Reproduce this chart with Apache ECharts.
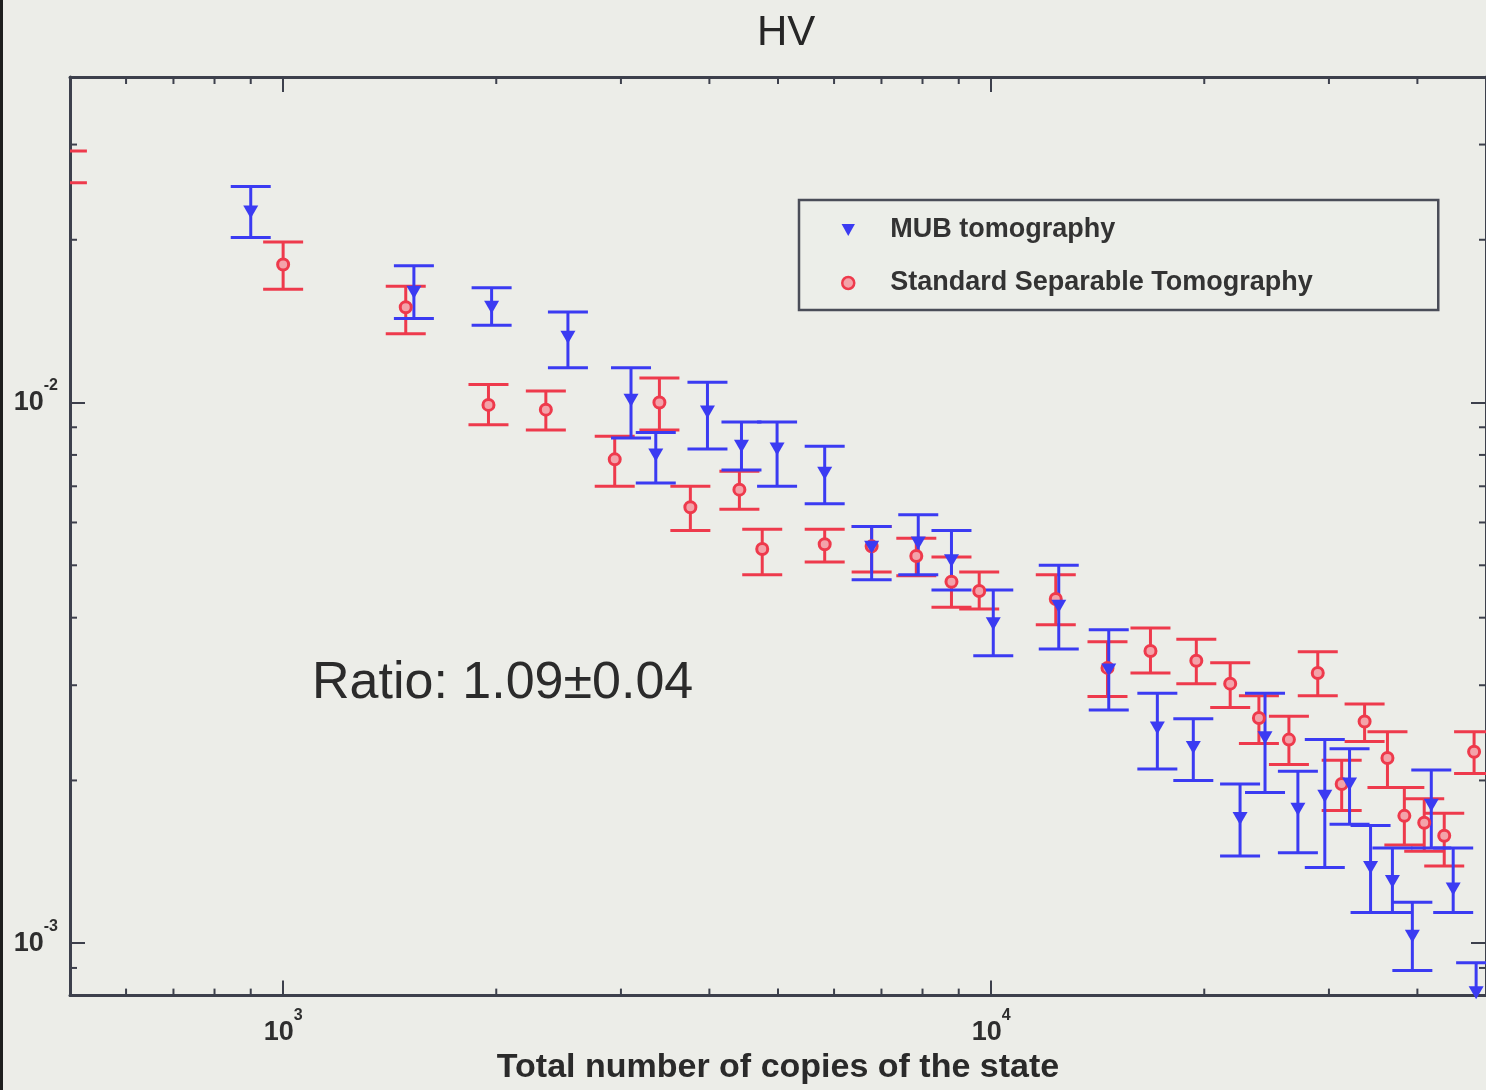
<!DOCTYPE html>
<html>
<head>
<meta charset="utf-8">
<title>HV</title>
<script src="https://cdn.jsdelivr.net/npm/echarts@6/dist/echarts.min.js"></script>
<style>
  html, body { margin: 0; padding: 0; background: #ecede8; }
  #chart { width: 1486px; height: 1090px; }
</style>
</head>
<body>
<div id="chart"></div>
<script>
// MUB tomography: number of copies, estimate, lower and upper error bounds
const mubCopies = [900, 1530, 1970, 2525, 3100, 3360, 3975, 4440, 4985, 5820,
  6780, 7890, 8790, 10070, 12460, 14660, 17170, 19300, 22470, 24370,
  27120, 29600, 32080, 34350, 36880, 39350, 41850, 44940, 48420];
const mubValue = [0.0225, 0.0160, 0.0150, 0.0132, 0.0101, 0.0080, 0.0096, 0.0083, 0.0082, 0.0074,
  0.0054, 0.0055, 0.0051, 0.0039, 0.0042, 0.0032, 0.0025, 0.0023, 0.0017, 0.0024,
  0.00177, 0.00187, 0.00197, 0.00138, 0.00130, 0.00103, 0.00180, 0.00126, 0.00081];
const mubLower = [0.0202, 0.0143, 0.0139, 0.0116, 0.0086, 0.0071, 0.0082, 0.0075, 0.0070, 0.0065,
  0.0047, 0.0048, 0.0045, 0.0034, 0.0035, 0.0027, 0.0021, 0.0020, 0.00145, 0.0019,
  0.00147, 0.00138, 0.00166, 0.00114, 0.00114, 0.00089, 0.00150, 0.00114, 0.00072];
const mubUpper = [0.0251, 0.0179, 0.0163, 0.0147, 0.0116, 0.0088, 0.0109, 0.0092, 0.0092, 0.0083,
  0.0059, 0.0062, 0.0058, 0.0045, 0.0050, 0.0038, 0.0029, 0.0026, 0.00197, 0.0029,
  0.00208, 0.00238, 0.00229, 0.00165, 0.00150, 0.00119, 0.00209, 0.00150, 0.00092];

// Standard separable tomography
const sstCopies = [495, 1000, 1490, 1950, 2350, 2940, 3400, 3760, 4410, 4750,
  5820, 6780, 7840, 8790, 9620, 12340, 14600, 16790, 19490, 21760,
  23890, 26340, 28930, 31270, 33690, 36290, 38340, 40900, 43650, 48100];
const sstValue = [0.0272, 0.0180, 0.0150, 0.0099, 0.0097, 0.00785, 0.0100, 0.0064, 0.0069, 0.00536,
  0.00547, 0.00542, 0.0052, 0.00466, 0.00448, 0.00433, 0.00323, 0.00347, 0.00333, 0.00302,
  0.00261, 0.00238, 0.00316, 0.00197, 0.00257, 0.00220, 0.00172, 0.00167, 0.00158, 0.00226];
const sstLower = [0.0255, 0.0162, 0.0134, 0.0091, 0.0089, 0.0070, 0.0089, 0.0058, 0.00635, 0.0048,
  0.00507, 0.00486, 0.00478, 0.00418, 0.00415, 0.00388, 0.00286, 0.00316, 0.00302, 0.00273,
  0.00234, 0.00214, 0.00287, 0.00176, 0.00236, 0.00194, 0.00152, 0.00148, 0.00139, 0.00206];
const sstUpper = [0.0292, 0.0198, 0.0164, 0.0108, 0.0105, 0.00866, 0.0111, 0.0070, 0.00746, 0.00583,
  0.00583, 0.0059, 0.00561, 0.00518, 0.00486, 0.0048, 0.00361, 0.00383, 0.00365, 0.0033,
  0.00287, 0.00263, 0.00346, 0.00218, 0.00277, 0.00246, 0.00194, 0.00185, 0.00174, 0.00246];

// Axis ranges and minor tick positions (log axes)
const xRange = [500, 50000];
const yRange = [0.0008, 0.04];
const xMinorTicks = [600, 700, 800, 900, 2000, 3000, 4000, 5000, 6000, 7000, 8000, 9000, 20000, 30000, 40000];
const yMinorTicks = [0.0009, 0.002, 0.003, 0.004, 0.005, 0.006, 0.007, 0.008, 0.009, 0.02, 0.03];

const seriesNames = ['MUB tomography', 'Standard Separable Tomography'];
const ratioText = 'Ratio: 1.09\u00b10.04';

const FONT = '"Liberation Sans", Arial, Helvetica, sans-serif';
const AXIS_COLOR = '#3d404c';
const BLUE = '#3b3bf2';
const RED = '#ee3a4c';
const CAP = 20;
const TRIANGLE = 'path://M0,0 L10,0 L5,9 Z';

function powerLabel(value) {
  const e = Math.log10(value);
  const r = Math.round(e);
  if (Math.abs(e - r) > 1e-6) return '';
  return '{b|10}{s|' + r + '}';
}

const labelRich = {
  b: { fontSize: 27, fontWeight: 'bold', fontFamily: FONT, color: '#2e2e2e', lineHeight: 50 },
  s: { fontSize: 16, fontWeight: 'bold', fontFamily: FONT, color: '#2e2e2e', lineHeight: 12, verticalAlign: 'top' }
};

function errorBarSeries(name, color, xs, lo, hi) {
  return {
    type: 'custom',
    name: name,
    clip: true,
    silent: true,
    data: xs.map((x, i) => [x, lo[i], hi[i]]),
    encode: { x: 0, y: [1, 2] },
    renderItem: function (params, api) {
      const x = api.value(0);
      const pLo = api.coord([x, api.value(1)]);
      const pHi = api.coord([x, api.value(2)]);
      const style = { stroke: color, lineWidth: 3, lineCap: 'butt' };
      return {
        type: 'group',
        children: [
          { type: 'line', shape: { x1: pLo[0], y1: pLo[1], x2: pHi[0], y2: pHi[1] }, style: style },
          { type: 'line', shape: { x1: pLo[0] - CAP, y1: pLo[1], x2: pLo[0] + CAP, y2: pLo[1] }, style: style },
          { type: 'line', shape: { x1: pHi[0] - CAP, y1: pHi[1], x2: pHi[0] + CAP, y2: pHi[1] }, style: style }
        ]
      };
    },
    z: 3
  };
}

// Minor ticks on all four sides of the frame, placed through the log scales
function minorTickSeries(values, isX) {
  const len = 7;
  return {
    type: 'custom',
    silent: true,
    data: values.map(v => isX ? [v, yRange[0]] : [xRange[0], v]),
    renderItem: function (params, api) {
      const cs = params.coordSys;
      const p = api.coord([api.value(0), api.value(1)]);
      const style = { stroke: AXIS_COLOR, lineWidth: 2 };
      if (isX) {
        const bottom = cs.y + cs.height, top = cs.y;
        return { type: 'group', children: [
          { type: 'line', shape: { x1: p[0], y1: bottom, x2: p[0], y2: bottom - len }, style: style },
          { type: 'line', shape: { x1: p[0], y1: top, x2: p[0], y2: top + len }, style: style }
        ] };
      }
      const left = cs.x, right = cs.x + cs.width;
      return { type: 'group', children: [
        { type: 'line', shape: { x1: left, y1: p[1], x2: left + len, y2: p[1] }, style: style },
        { type: 'line', shape: { x1: right, y1: p[1], x2: right - len, y2: p[1] }, style: style }
      ] };
    },
    z: 4
  };
}

const baseAxis = {
  type: 'log',
  logBase: 10,
  splitLine: { show: false },
  axisLine: { show: true, lineStyle: { color: AXIS_COLOR, width: 3 } },
  axisTick: { show: true, inside: true, length: 15, lineStyle: { color: AXIS_COLOR, width: 2 } },
  minorTick: { show: false }
};

const chart = echarts.init(document.getElementById('chart'), null, { renderer: 'canvas' });

chart.setOption({
  animation: false,
  backgroundColor: '#ecede8',
  title: {
    text: 'HV',
    left: 752,
    top: 7,
    textStyle: { fontSize: 42, fontWeight: 'normal', fontFamily: FONT, color: '#262626' }
  },
  grid: { left: 70, top: 77, right: -6, bottom: 93, show: false },
  legend: {
    data: [
      { name: seriesNames[0], icon: TRIANGLE, itemStyle: { color: BLUE } },
      { name: seriesNames[1], icon: 'circle', itemStyle: { color: '#f3a3aa', borderColor: RED, borderWidth: 2.5 } }
    ],
    orient: 'vertical',
    left: 799,
    top: 200,
    padding: [15, 28, 12, 42],
    itemWidth: 14,
    itemHeight: 12,
    itemGap: 23,
    borderColor: '#4a4d58',
    borderWidth: 2.5,
    borderRadius: 0,
    backgroundColor: '#eceee9',
    textStyle: {
      fontSize: 27, fontWeight: 'bold', fontFamily: FONT, color: '#333333',
      lineHeight: 30, width: 520, padding: [0, 0, 0, 30], overflow: 'truncate'
    }
  },
  xAxis: [
    Object.assign({}, baseAxis, {
      position: 'bottom',
      min: xRange[0], max: xRange[1],
      name: 'Total number of copies of the state',
      nameLocation: 'middle',
      nameGap: 55,
      nameTextStyle: { fontSize: 34, fontWeight: 'bold', fontFamily: FONT, color: '#2a2a2a' },
      axisLabel: { show: true, margin: 12, formatter: powerLabel, rich: labelRich, showMinLabel: false, showMaxLabel: false }
    }),
    Object.assign({}, baseAxis, {
      position: 'top',
      min: xRange[0], max: xRange[1],
      axisLabel: { show: false }
    })
  ],
  yAxis: [
    Object.assign({}, baseAxis, {
      position: 'left',
      min: yRange[0], max: yRange[1],
      axisLabel: { show: true, margin: 12, formatter: powerLabel, rich: labelRich, showMinLabel: false, showMaxLabel: false }
    }),
    Object.assign({}, baseAxis, {
      position: 'right',
      min: yRange[0], max: yRange[1],
      axisLabel: { show: false }
    })
  ],
  graphic: [
    { type: 'rect', shape: { x: 0, y: 0, width: 3, height: 1090 }, style: { fill: '#1e1e1e' }, silent: true },
    {
      type: 'text', x: 312, y: 684, silent: true,
      style: { text: ratioText, fontSize: 52, fontFamily: FONT, fill: '#2b2b2b', align: 'left', verticalAlign: 'middle' }
    }
  ],
  series: [
    minorTickSeries(xMinorTicks, true),
    minorTickSeries(yMinorTicks, false),
    errorBarSeries('sstErr', RED, sstCopies, sstLower, sstUpper),
    {
      type: 'scatter',
      name: seriesNames[1],
      data: sstCopies.map((x, i) => [x, sstValue[i]]),
      symbol: 'circle',
      symbolSize: 11,
      clip: true,
      itemStyle: { color: '#f3a3aa', borderColor: RED, borderWidth: 3, opacity: 1 },
      z: 4
    },
    errorBarSeries('mubErr', BLUE, mubCopies, mubLower, mubUpper),
    {
      type: 'scatter',
      name: seriesNames[0],
      data: mubCopies.map((x, i) => [x, mubValue[i]]),
      symbol: TRIANGLE,
      symbolSize: [15, 13],
      clip: true,
      itemStyle: { color: BLUE, opacity: 1 },
      z: 5
    }
  ]
});
</script>
</body>
</html>
